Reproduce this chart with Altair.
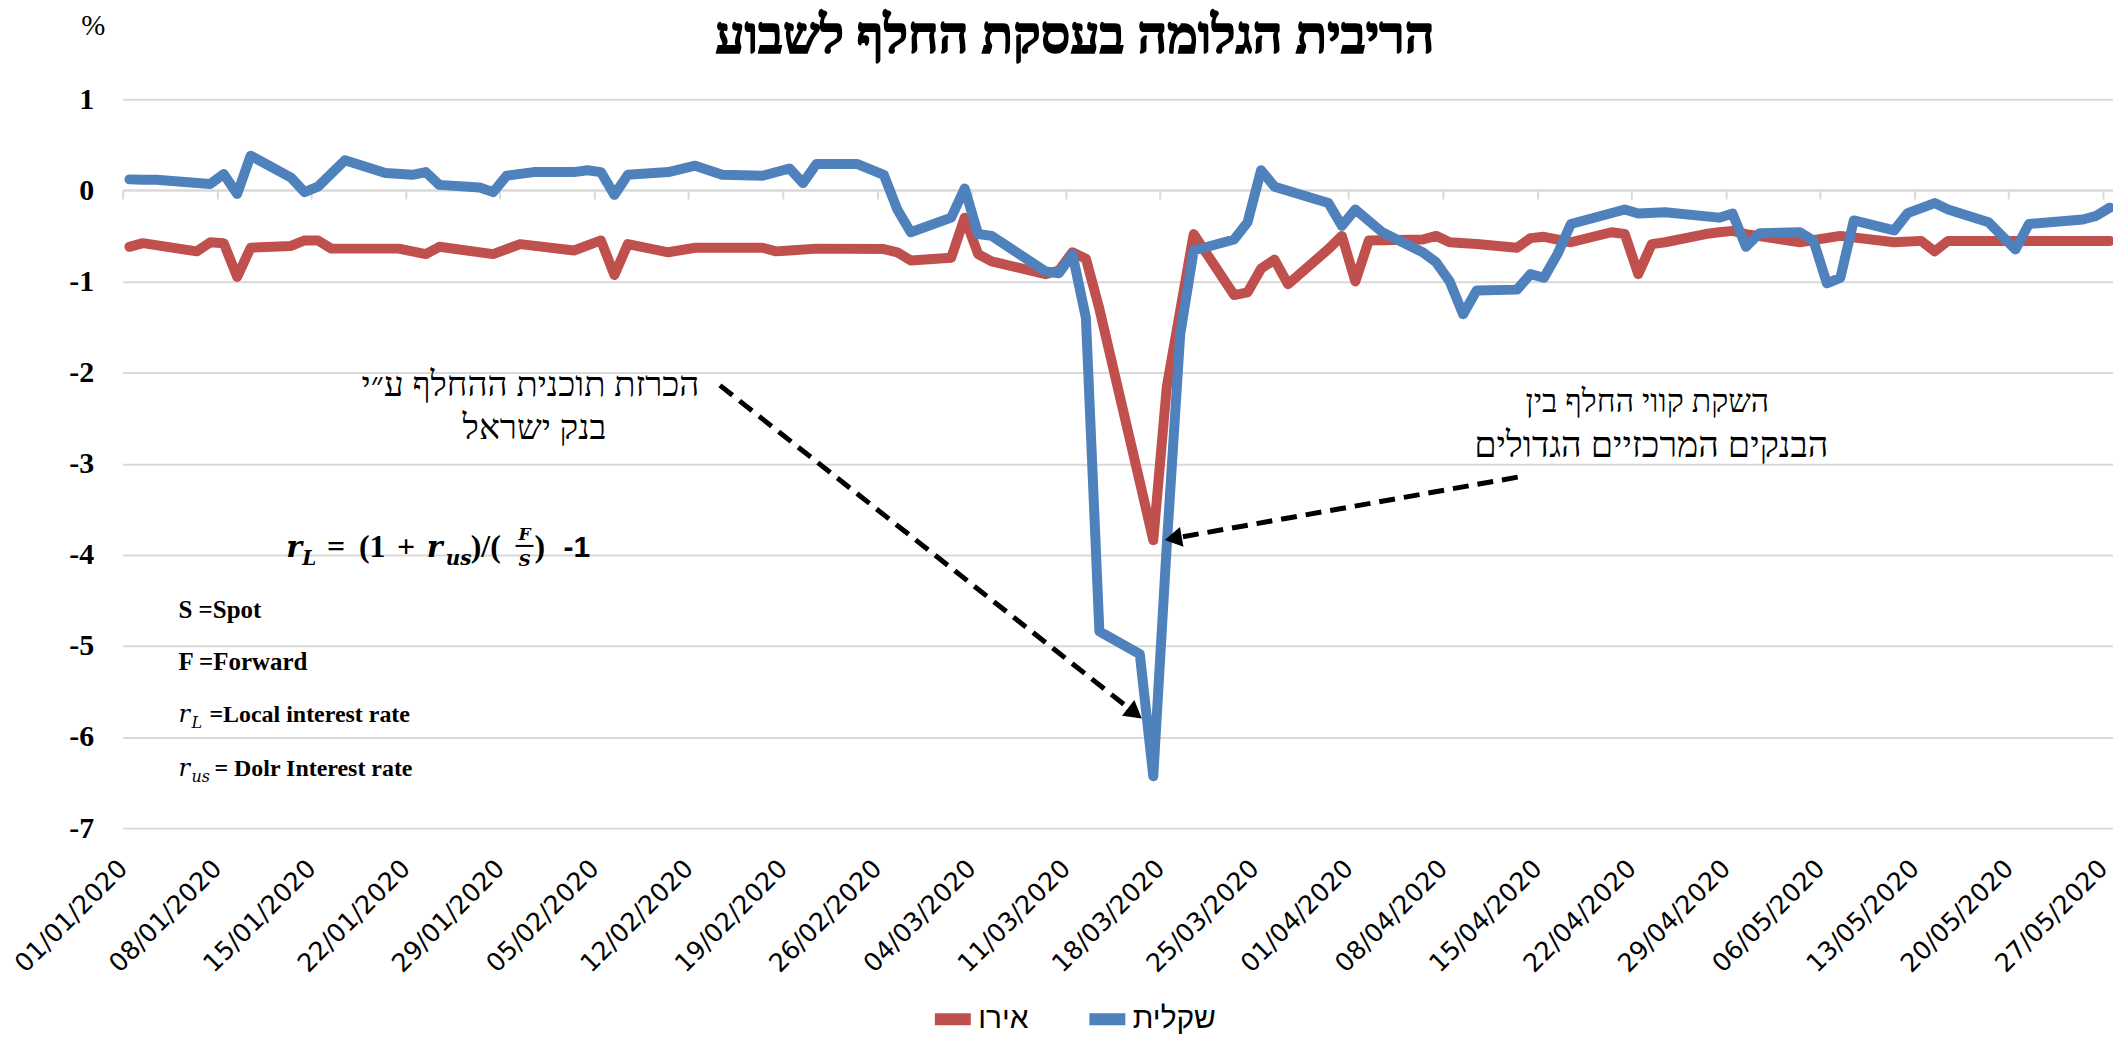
import altair as alt
import pandas as pd

# ---------------- data ----------------
series_names = ["אירו", "שקלית"]
series_colors = ["#C0504D", "#4F81BD"]

blue_dates = [
    "2020-01-01", "2020-01-02", "2020-01-03", "2020-01-07", "2020-01-08", "2020-01-09",
    "2020-01-10", "2020-01-13", "2020-01-14", "2020-01-15", "2020-01-17", "2020-01-20",
    "2020-01-22", "2020-01-23", "2020-01-24", "2020-01-27", "2020-01-28", "2020-01-29",
    "2020-01-31", "2020-02-03", "2020-02-04", "2020-02-05", "2020-02-06", "2020-02-07",
    "2020-02-10", "2020-02-12", "2020-02-14", "2020-02-17", "2020-02-19", "2020-02-20",
    "2020-02-21", "2020-02-24", "2020-02-26", "2020-02-27", "2020-02-28", "2020-03-02",
    "2020-03-03", "2020-03-04", "2020-03-05", "2020-03-09", "2020-03-10", "2020-03-11",
    "2020-03-12", "2020-03-13", "2020-03-16", "2020-03-17", "2020-03-18", "2020-03-19",
    "2020-03-20", "2020-03-23", "2020-03-24", "2020-03-25", "2020-03-26", "2020-03-30",
    "2020-03-31", "2020-04-01", "2020-04-03", "2020-04-06", "2020-04-07", "2020-04-08",
    "2020-04-09", "2020-04-10", "2020-04-13", "2020-04-14", "2020-04-15", "2020-04-16",
    "2020-04-17", "2020-04-21", "2020-04-22", "2020-04-24", "2020-04-28", "2020-04-29",
    "2020-04-30", "2020-05-01", "2020-05-04", "2020-05-05", "2020-05-06", "2020-05-07",
    "2020-05-08", "2020-05-11", "2020-05-12", "2020-05-14", "2020-05-15", "2020-05-18",
    "2020-05-20", "2020-05-21", "2020-05-25", "2020-05-26", "2020-05-27",
]
blue_vals = [
    0.12, 0.115, 0.115, 0.07, 0.18, -0.04,
    0.38, 0.14, -0.02, 0.04, 0.33, 0.19,
    0.17, 0.20, 0.06, 0.03, -0.02, 0.16,
    0.20, 0.20, 0.22, 0.20, -0.05, 0.17,
    0.20, 0.27, 0.17, 0.16, 0.24, 0.08,
    0.29, 0.29, 0.17, -0.21, -0.46, -0.30,
    0.02, -0.48, -0.50, -0.89, -0.91, -0.70,
    -1.40, -4.84, -5.09, -6.43, -3.90, -1.58,
    -0.66, -0.54, -0.35, 0.22, 0.04, -0.14,
    -0.39, -0.21, -0.46, -0.68, -0.79, -1.00,
    -1.36, -1.10, -1.09, -0.92, -0.96, -0.70,
    -0.37, -0.21, -0.255, -0.24, -0.30, -0.255,
    -0.62, -0.47, -0.46, -0.55, -1.02, -0.96,
    -0.33, -0.44, -0.25, -0.14, -0.21, -0.35,
    -0.65, -0.37, -0.32, -0.28, -0.19,
]

red_dates = [
    "2020-01-01", "2020-01-02", "2020-01-06", "2020-01-07", "2020-01-08", "2020-01-09",
    "2020-01-10", "2020-01-13", "2020-01-14", "2020-01-15", "2020-01-16", "2020-01-21",
    "2020-01-23", "2020-01-24", "2020-01-28", "2020-01-30", "2020-02-03", "2020-02-05",
    "2020-02-06", "2020-02-07", "2020-02-10", "2020-02-12", "2020-02-17", "2020-02-18",
    "2020-02-19", "2020-02-21", "2020-02-26", "2020-02-27", "2020-02-28", "2020-03-02",
    "2020-03-03", "2020-03-04", "2020-03-05", "2020-03-09", "2020-03-10", "2020-03-11",
    "2020-03-12", "2020-03-13", "2020-03-16", "2020-03-17", "2020-03-18", "2020-03-20",
    "2020-03-23", "2020-03-24", "2020-03-25", "2020-03-26", "2020-03-27", "2020-03-30",
    "2020-03-31", "2020-04-01", "2020-04-02", "2020-04-06", "2020-04-07", "2020-04-08",
    "2020-04-10", "2020-04-13", "2020-04-14", "2020-04-15", "2020-04-17", "2020-04-20",
    "2020-04-21", "2020-04-22", "2020-04-23", "2020-04-24", "2020-04-27", "2020-04-28",
    "2020-04-29", "2020-04-30", "2020-05-04", "2020-05-07", "2020-05-11", "2020-05-13",
    "2020-05-14", "2020-05-15", "2020-05-20", "2020-05-27",
]
red_vals = [
    -0.62, -0.58, -0.67, -0.57, -0.58, -0.95,
    -0.63, -0.61, -0.55, -0.55, -0.64, -0.64,
    -0.70, -0.62, -0.70, -0.59, -0.66, -0.55,
    -0.93, -0.59, -0.68, -0.63, -0.63, -0.67,
    -0.66, -0.64, -0.645, -0.68, -0.77, -0.74,
    -0.30, -0.70, -0.78, -0.92, -0.88, -0.68,
    -0.75, -1.30, -3.20, -3.84, -2.16, -0.48,
    -1.15, -1.12, -0.86, -0.76, -1.03, -0.645,
    -0.50, -1.00, -0.55, -0.54, -0.50, -0.57,
    -0.59, -0.63, -0.525, -0.51, -0.57, -0.46,
    -0.48, -0.92, -0.59, -0.57, -0.48, -0.46,
    -0.445, -0.48, -0.57, -0.50, -0.57, -0.555,
    -0.67, -0.555, -0.555, -0.555,
]

tick_dates = [
    "2020-01-01", "2020-01-08", "2020-01-15", "2020-01-22", "2020-01-29", "2020-02-05",
    "2020-02-12", "2020-02-19", "2020-02-26", "2020-03-04", "2020-03-11", "2020-03-18",
    "2020-03-25", "2020-04-01", "2020-04-08", "2020-04-15", "2020-04-22", "2020-04-29",
    "2020-05-06", "2020-05-13", "2020-05-20", "2020-05-27",
]
y_ticks = [-7, -6, -5, -4, -3, -2, -1, 0, 1]

# ---------------- layout helpers ----------------
PX0, PY0 = 123, 98          # plot-area origin in page pixels
W, H = 1996, 731

def dt(s, hours=0, minutes=0):
    y, m, d = (int(v) for v in s.split("-"))
    return alt.DateTime(year=y, month=m, date=d, hours=hours, minutes=minutes)

df = pd.concat([
    pd.DataFrame({"date": red_dates, "value": red_vals, "series": series_names[0]}),
    pd.DataFrame({"date": blue_dates, "value": blue_vals, "series": series_names[1]}),
], ignore_index=True)
# Excel date axis puts each day's point in the middle of its day slot
df["date"] = pd.to_datetime(df["date"]) + pd.Timedelta(hours=12)

one = pd.DataFrame({"k": [0]})

x_axis = alt.Axis(
    values=[dt(t) for t in tick_dates], format="%d/%m/%Y",
    labelAngle=315, labelAlign="right", labelBaseline="middle",
    labelFont="DejaVu Sans", labelFontSize=25.5, labelColor="black",
    labelPadding=667, labelOverlap=False, labelFlush=False, labelBound=False,
    offset=-640, domainColor="#d9d9d9", domainWidth=2,
    tickColor="#d9d9d9", tickWidth=2, tickSize=9, grid=False, title=None,
)
y_axis = alt.Axis(
    values=y_ticks, labelExpr="'' + datum.value",
    labelFont="Liberation Serif", labelFontWeight="bold", labelFontSize=30,
    labelColor="black", labelPadding=29, domain=False, ticks=False,
    gridColor="#d9d9d9", gridWidth=2,
    title="%", titleAngle=0, titleX=-30, titleY=-74, titleFont="Liberation Serif",
    titleFontSize=29, titleFontWeight="normal", titleAlign="center",
    titleBaseline="middle", titleColor="black",
)

lines = alt.Chart(df).mark_line(strokeWidth=10, strokeCap="round", strokeJoin="round").encode(
    x=alt.X("date:T", axis=x_axis,
            scale=alt.Scale(domain=[dt("2020-01-01"), dt("2020-05-27", 17, 45)])),
    y=alt.Y("value:Q", axis=y_axis, scale=alt.Scale(domain=[-7, 1], nice=False, zero=False)),
    color=alt.Color("series:N", scale=alt.Scale(domain=series_names, range=series_colors),
                    legend=alt.Legend(orient="none", legendX=808, legendY=898,
                                      direction="horizontal", title=None,
                                      symbolType="stroke", symbolSize=1300,
                                      symbolStrokeWidth=12, labelFont="Liberation Sans",
                                      labelFontSize=30, labelColor="black",
                                      columnPadding=36, labelOffset=1, padding=0,
                                      labelLimit=0)),
)


def txt(text, x, y, size, font="Liberation Serif", weight="normal", style="normal",
        align="center", baseline="alphabetic", stroke=0.0):
    kw = {}
    if stroke > 0:
        kw = dict(stroke="black", strokeWidth=stroke)
    return alt.Chart(one).mark_text(
        text=text, fontSize=size, font=font, fontWeight=weight, fontStyle=style,
        align=align, baseline=baseline, color="black", **kw,
    ).encode(x=alt.value(x - PX0), y=alt.value(y - PY0))


def arrow(x1, y1, tipx, tipy, angle, head=400):
    dx, dy = tipx - x1, tipy - y1
    n = (dx * dx + dy * dy) ** 0.5
    ux, uy = dx / n, dy / n
    h = 0.866 * (head ** 0.5) / 2
    line = alt.Chart(one).mark_rule(color="black", strokeWidth=5, strokeDash=[16, 9]).encode(
        x=alt.value(x1 - PX0), y=alt.value(y1 - PY0),
        x2=alt.value(tipx - 2 * h * ux - PX0), y2=alt.value(tipy - 2 * h * uy - PY0))
    tip = alt.Chart(one).mark_point(shape="triangle-up", filled=True, color="black",
                                    size=head, angle=angle, opacity=1).encode(
        x=alt.value(tipx - h * ux - PX0), y=alt.value(tipy - h * uy - PY0))
    return [line, tip]


layers = [lines]
# title
layers.append(txt("הריבית הגלומה בעסקת החלף לשבוע", 1078, 36, 52, weight="bold",
                  baseline="middle", stroke=1.6))
# annotations
layers.append(txt("הכרזת תוכנית ההחלף ע״י", 532, 385, 35, baseline="middle"))
layers.append(txt("בנק ישראל", 536, 428, 35, baseline="middle"))
layers.append(txt("השקת קווי החלף בין", 1652, 402, 32, baseline="middle"))
layers.append(txt("הבנקים המרכזיים הגדולים", 1656, 446, 36, baseline="middle"))
layers += arrow(722, 385, 1145, 719, 128)
layers += arrow(1522, 477, 1168, 540, 260)

# formula  r_L = (1 + r_us)/(F/S)  -1
BI = dict(font="DejaVu Serif", weight="bold", style="italic", align="left")
UP = dict(font="Liberation Serif", weight="bold", align="left")
layers.append(txt("r", 287, 557, 30, **BI))
layers.append(txt("L", 303, 565, 20, **BI))
layers.append(txt("=", 328, 557, 32, **UP))
layers.append(txt("(1", 360, 557, 32, **UP))
layers.append(txt("+", 398, 557, 32, **UP))
layers.append(txt("r", 428, 557, 30, **BI))
layers.append(txt("us", 447, 565, 20, **BI))
layers.append(txt(")/(", 472, 557, 32, **UP))
layers.append(txt("F", 526, 540, 17, font="DejaVu Serif", weight="bold", style="italic"))
layers.append(alt.Chart(one).mark_rule(color="black", strokeWidth=2).encode(
    x=alt.value(517 - PX0), x2=alt.value(535 - PX0), y=alt.value(546 - PY0)))
layers.append(txt("S", 526, 566, 17, font="DejaVu Serif", weight="bold", style="italic"))
layers.append(txt(")", 536, 557, 32, **UP))
layers.append(txt("-1", 565, 557, 30, font="Liberation Sans", weight="bold", align="left"))

# definitions
layers.append(txt("S  =Spot", 179, 618, 25, weight="bold", align="left"))
layers.append(txt("F  =Forward", 179, 670, 25, weight="bold", align="left"))
layers.append(txt("r", 179, 723, 24, font="DejaVu Serif", style="italic", align="left"))
layers.append(txt("L", 192, 729, 16, font="DejaVu Serif", style="italic", align="left"))
layers.append(txt("=Local interest rate", 210, 723, 24, weight="bold", align="left"))
layers.append(txt("r", 179, 777, 24, font="DejaVu Serif", style="italic", align="left"))
layers.append(txt("us", 192, 783, 16, font="DejaVu Serif", style="italic", align="left"))
layers.append(txt("= Dolr Interest rate", 215, 777, 24, weight="bold", align="left"))

chart = alt.layer(*layers).properties(
    width=W, height=H,
    autosize=alt.AutoSizeParams(type="none"),
    padding={"left": 115, "top": 90, "right": 0, "bottom": 207},
    background="white",
).configure_view(stroke=None)

chart.save("out.html", embed_options={"renderer": "svg", "actions": False})
